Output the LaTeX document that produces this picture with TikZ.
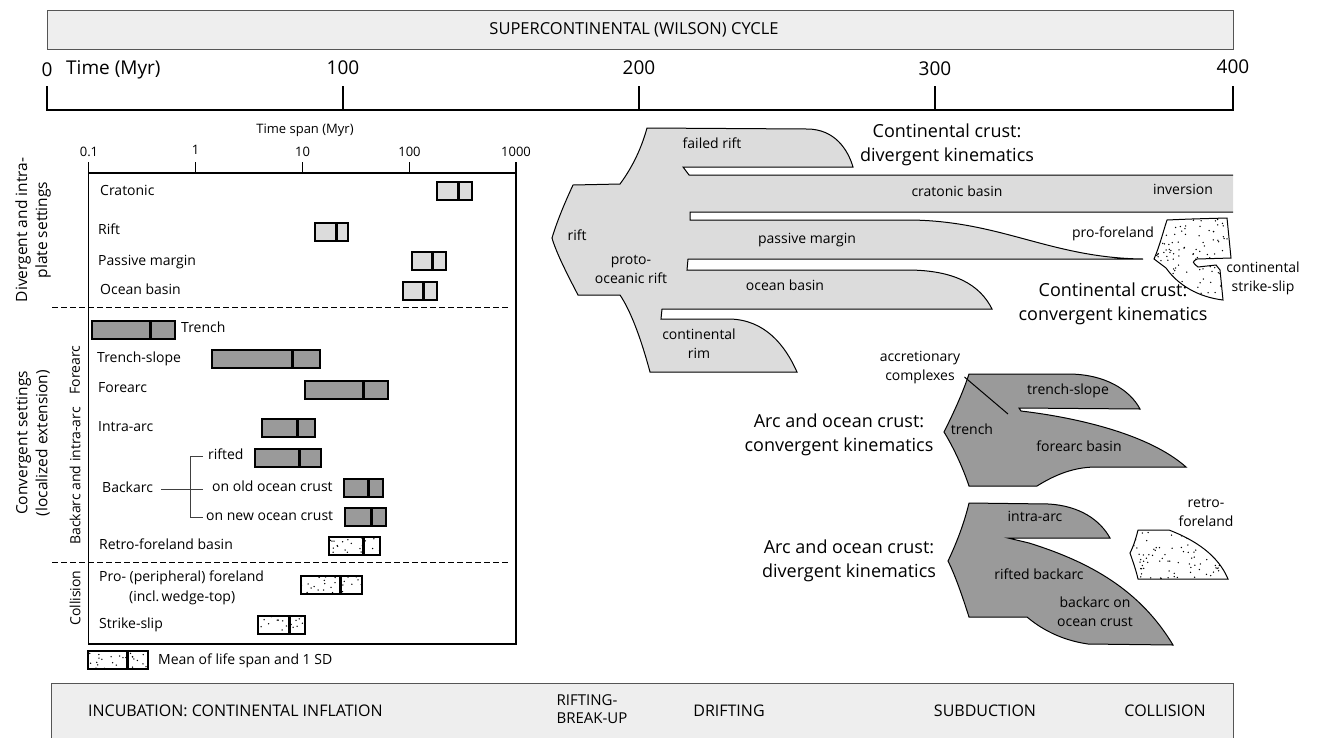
\documentclass[tikz,border=0pt]{standalone}
\usepackage{fontspec}
\setmainfont{Open Sans}
\usetikzlibrary{calc}
\definecolor{lite}{HTML}{DCDCDC}
\definecolor{dark}{HTML}{9A9A9A}
\definecolor{band}{HTML}{EEEEEE}
\definecolor{edge}{HTML}{555555}
\tikzset{
 lab/.style={font=\fontsize{14}{18}\selectfont, inner sep=0pt, text height=10pt, text depth=3pt},
 ml/.style={font=\fontsize{14}{19}\selectfont, inner sep=0pt, align=center},
 big/.style={font=\fontsize{18}{24}\selectfont, inner sep=0pt, align=center},
 caps/.style={font=\fontsize{16}{18}\selectfont, inner sep=0pt},
 num/.style={font=\fontsize{19}{21}\selectfont, inner sep=0pt},
 ticklab/.style={font=\fontsize{13}{15}\selectfont, inner sep=0pt},
 rot/.style={rotate=90, align=center, inner sep=0pt},
 rotbig/.style={rot, font=\fontsize{15.5}{20}\selectfont},
 rotsm/.style={rot, font=\fontsize{14}{18}\selectfont},
 bandbox/.style={fill=band, draw=edge, line width=1pt},
 lbar/.style={fill=lite},
 dbar/.style={fill=dark},
 brk/.style={draw=black!75, line width=0.9pt},
 sep/.style={draw=black, line width=1pt, dash pattern=on 6pt off 3pt},
 shp/.style={draw=black, line width=1pt},
 stip/.style={fill=white, path picture={%
   \pgfmathsetseed{#1}%
   \foreach \k in {1,...,#1}{%
     \pgfmathsetmacro\rx{rnd}%
     \pgfmathsetmacro\ry{rnd}%
     \fill[black] let \p1=(path picture bounding box.south west), \p2=(path picture bounding box.north east) in (\x1+\rx*\x2-\rx*\x1,\y1+\ry*\y2-\ry*\y1) circle[radius=0.75pt];
   }}},
}
\newcommand\lifebar[5]{%
  \path[#1, draw=black, line width=1.3pt] (#3,#2) rectangle (#4,#2+18);
  \draw[line width=3pt] (#5,#2) -- (#5,#2+18);
}
\begin{document}
\begin{tikzpicture}[x=1pt,y=-1pt]
\useasboundingbox (0,0) rectangle (1321,737);

% ---------- top band and time axis
\draw[bandbox] (47,10) rectangle (1233,49);
\node[caps, font=\fontsize{16.5}{18}\selectfont] (cycle) at (634,29.5) {SUPERCONTINENTAL (WILSON) CYCLE};
\node[num] (n0) at (47,70) {0};
\node[num, anchor=west] (tm) at (66,70) {Time (Myr)};
\node[num] (n100) at (343,68) {100};
\node[num] (n200) at (639,68) {200};
\node[num] (n300) at (935,69) {300};
\node[num] (n400) at (1233,67) {400};
\draw[line width=1.4pt] (47,86) -- (47,110) -- (1233,110) -- (1233,86);
\foreach \t in {343,639,935} \draw[line width=1.4pt] (\t,86) -- (\t,110);

% ---------- bottom band
\draw[bandbox] (51,683) rectangle (1233,760);
\node[caps, anchor=west] (inc) at (88,711) {INCUBATION: CONTINENTAL INFLATION};
\node[caps, align=left, font=\fontsize{15}{18}\selectfont] (rbu) at (592,709) {RIFTING-\\BREAK-UP};
\node[caps] (dri) at (729,711) {DRIFTING};
\node[caps] (sub) at (985,711) {SUBDUCTION};
\node[caps] (coll) at (1165,711) {COLLISION};

% ---------- left chart
\node[ticklab] (tsp) at (305,130) {Time span (Myr)};
\node[ticklab] (l01) at (89,152) {0.1};
\node[ticklab] (l1) at (195.5,150) {1};
\node[ticklab] (l10) at (302.5,152) {10};
\node[ticklab] (l100) at (409.5,152) {100};
\node[ticklab] (l1000) at (516,152) {1000};
\draw[line width=1.2pt] (88.5,173) rectangle (516,644);
\foreach \t in {88.5,195.5,302.5,409.5,516} \draw[line width=1.2pt] (\t,162) -- (\t,173);
\draw[sep] (52,307) -- (508,307);
\draw[sep] (52,562) -- (508,562);

\node[rotbig] (div) at (33,230) {Divergent and intra-\\plate settings};
\node[rotbig] (conv) at (33,443) {Convergent settings\\(localized extension)};
\node[rotsm] (fore) at (75,370) {Forearc};
\node[rotsm] (bai) at (75,476) {Backarc and intra-arc};
\node[rotsm] (col) at (75,598) {Collision};

\node[lab, anchor=west] (crat) at (100,192) {Cratonic};
\node[lab, anchor=west] (rift) at (98,231) {Rift};
\node[lab, anchor=west] (pm) at (98,262) {Passive margin};
\node[lab, anchor=west] (ob) at (100,291) {Ocean basin};
\node[lab, anchor=west] (tr) at (181,329) {Trench};
\node[lab, anchor=west] (ts) at (97,359) {Trench-slope};
\node[lab, anchor=west] (fa) at (98,389) {Forearc};
\node[lab, anchor=west] (ia) at (98,428) {Intra-arc};
\node[lab, anchor=west] (rif) at (208,456) {rifted};
\node[lab, anchor=west] (ba) at (102,489) {Backarc};
\node[lab, anchor=west] (old) at (212,488) {on old ocean crust};
\node[lab, anchor=west] (new) at (206,517) {on new ocean crust};
\node[lab, anchor=west] (rfb) at (99,546) {Retro-foreland basin};
\node[lab, anchor=west] (pro) at (99,578) {Pro- (peripheral) foreland};
\node[lab, anchor=west] (incl) at (129,598) {(incl.\,wedge-top)};
\node[lab, anchor=west] (ss) at (99,625) {Strike-slip};
\node[lab, anchor=west] (leg) at (158,661) {Mean of life span and 1 SD};

\draw[brk] ([xshift=8pt]ba.east) -- ([xshift=-9pt]ba.east -| old.west);
\draw[brk] ([xshift=-5pt]rif.west) -- ([xshift=-18pt]rif.west) |- ([xshift=-3pt]new.west);

\lifebar{lbar}{182}{437}{472}{458}
\lifebar{lbar}{223}{315}{348}{336}
\lifebar{lbar}{252}{412}{446}{432}
\lifebar{lbar}{282}{403}{437}{423}
\lifebar{dbar}{321}{92}{175}{150}
\lifebar{dbar}{350}{212}{320}{292}
\lifebar{dbar}{381}{305}{388}{363}
\lifebar{dbar}{419}{262}{315}{297}
\lifebar{dbar}{449}{255}{321}{299}
\lifebar{dbar}{479}{344}{383}{368}
\lifebar{dbar}{508}{345}{386}{371}
\lifebar{stip=22}{537}{329}{380}{363}
\lifebar{stip=26}{576}{301}{362}{340}
\lifebar{stip=19}{616}{258}{305}{289}
\lifebar{stip=24}{651}{88}{148}{127}

% ---------- continental crust, divergent (light tree)
\path[fill=lite, shp] (1233,212) -- (690,212) -- (690,220) -- (907,220)
  .. controls (1000,220) and (1050,258) .. (1143,259) -- (688,259) -- (687,270) -- (907,270)
  .. controls (955,270) and (980,285) .. (992,309) -- (662,309) -- (661,319) -- (730,319)
  .. controls (765,320) and (785,345) .. (797,372) -- (650,372)
  .. controls (640,335) and (630,310) .. (620,295) -- (578,295)
  .. controls (566,272) and (556,252) .. (552,238)
  .. controls (558,218) and (567,198) .. (573,185) -- (620,184)
  .. controls (634,165) and (642,146) .. (647,128) -- (807,129)
  .. controls (835,129) and (848,150) .. (853,167) -- (683,167) -- (689,175) -- (1233,175);

\node[lab] (fr) at (712,145) {failed rift};
\node[big] (ccd) at (947,145) {Continental crust:\\divergent kinematics};
\node[lab] (cb) at (957,193) {cratonic basin};
\node[lab] (inv) at (1183,191) {inversion};
\node[lab] (rl) at (577,237) {rift};
\node[ml] (por) at (631,269) {proto-\\oceanic rift};
\node[lab] (pmg) at (807,240) {passive margin};
\node[lab] (obs) at (785,287) {ocean basin};
\node[ml] (crim) at (699,344) {continental\\rim};

% ---------- continental crust, convergent (stippled)
\path[stip=130, shp] (1167,220) .. controls (1190,219) .. (1227,218) -- (1231,258) -- (1197,259)
  .. controls (1192,262) .. (1198,267) -- (1216,265) -- (1220,270) -- (1223,300)
  .. controls (1198,297) and (1178,285) .. (1166,268) -- (1154,259)
  .. controls (1160,245) and (1163,232) .. (1167,220) -- cycle;
\node[lab] (pfl) at (1113,234) {pro-foreland};
\node[ml] (css) at (1263,278) {continental\\strike-slip};
\node[big] (ccc) at (1113,304) {Continental crust:\\convergent kinematics};

% ---------- arc and ocean crust, convergent
\path[fill=dark, shp] (969,374) -- (1068,374) .. controls (1105,374) and (1130,390) .. (1140,409)
  -- (1019,408) -- (1021,411) .. controls (1080,418) and (1150,435) .. (1186,467)
  -- (1096,467) .. controls (1070,467) and (1050,478) .. (1037,486) -- (969,486)
  .. controls (962,465) and (952,445) .. (944,432)
  .. controls (955,410) and (963,392) .. (969,374) -- cycle;
\node[ml] (acc) at (920,368) {accretionary\\complexes};
\coordinate (accend) at (1008,414);
\draw[line width=1pt] ([xshift=4pt,yshift=-9pt]acc.east) -- (accend);
\node[lab] (tsl) at (1068,391) {trench-slope};
\node[lab] (trn) at (972,431) {trench};
\node[lab] (fab) at (1079,448) {forearc basin};
\node[big] (aoc) at (839,435) {Arc and ocean crust:\\convergent kinematics};

% ---------- arc and ocean crust, divergent
\path[fill=dark, shp] (969,503) -- (1049,504) .. controls (1080,506) and (1100,520) .. (1110,538)
  -- (1008,538) -- (1029,543) .. controls (1090,562) and (1140,590) .. (1173,645)
  -- (1088,644) .. controls (1060,640) and (1040,628) .. (1027,617) -- (969,617)
  .. controls (962,595) and (955,575) .. (948,561)
  .. controls (958,540) and (965,520) .. (969,503) -- cycle;
\node[lab] (iar) at (1035,518) {intra-arc};
\node[lab] (rba) at (1039,576) {rifted backarc};
\node[ml] (boc) at (1095,612) {backarc on\\ocean crust};
\node[big] (aod) at (849,561) {Arc and ocean crust:\\divergent kinematics};

% ---------- retro-foreland (stippled)
\path[stip=95, shp] (1138,530) -- (1169,530) .. controls (1195,540) and (1218,555) .. (1228,579)
  -- (1138,579) .. controls (1136,570) and (1133,562) .. (1130,553)
  .. controls (1134,545) and (1136,538) .. (1138,530) -- cycle;
\node[ml] (rfl) at (1206,512) {retro-\\foreland};
\end{tikzpicture}
\end{document}
